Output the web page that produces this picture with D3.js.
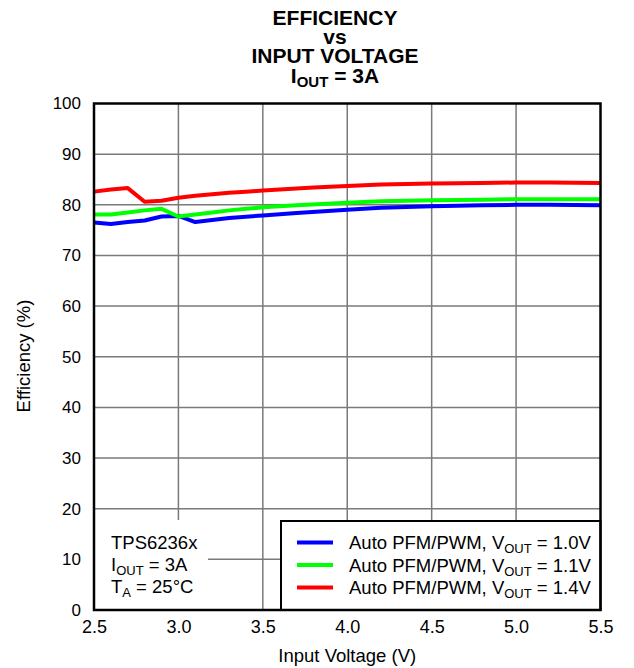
<!DOCTYPE html>
<html>
<head>
<meta charset="utf-8">
<script src="https://cdn.jsdelivr.net/npm/d3@7"></script>
<style>
  html, body { margin: 0; padding: 0; background: #fff; }
  svg text { font-family: "Liberation Sans", Arial, sans-serif; fill: #000; }
</style>
</head>
<body>
<svg id="chart" width="634" height="668"></svg>
<script>
// Efficiency vs input voltage, TPS6236x, IOUT = 3A
const vin1V0 = [2.5, 2.6, 2.7, 2.8, 2.9, 3.0, 3.1, 3.2, 3.3, 3.5, 3.7, 4.0, 4.2, 4.5, 4.8, 5.0, 5.2, 5.5];
const eff1V0 = [76.5, 76.2, 76.6, 76.9, 77.7, 77.8, 76.6, 77.0, 77.4, 77.9, 78.4, 79.0, 79.4, 79.7, 79.9, 80.0, 80.0, 79.9];

const vin1V1 = [2.5, 2.6, 2.7, 2.8, 2.9, 3.0, 3.1, 3.2, 3.3, 3.4, 3.5, 3.7, 4.0, 4.2, 4.5, 4.8, 5.0, 5.2, 5.5];
const eff1V1 = [78.1, 78.1, 78.5, 78.9, 79.2, 77.7, 78.1, 78.5, 78.9, 79.2, 79.5, 79.9, 80.4, 80.7, 80.9, 81.0, 81.1, 81.1, 81.1];

const vin1V4 = [2.5, 2.6, 2.7, 2.8, 2.9, 3.0, 3.1, 3.2, 3.3, 3.4, 3.5, 3.6, 3.8, 4.0, 4.2, 4.5, 4.8, 5.0, 5.2, 5.5];
const eff1V4 = [82.6, 83.0, 83.3, 80.6, 80.8, 81.4, 81.8, 82.1, 82.4, 82.6, 82.8, 83.0, 83.4, 83.7, 84.0, 84.2, 84.3, 84.4, 84.4, 84.3];

const seriesNames = ["1.0V", "1.1V", "1.4V"];
const seriesColors = ["#0000ff", "#00ff00", "#ff0000"];

const xTicks = [2.5, 3.0, 3.5, 4.0, 4.5, 5.0, 5.5];
const yTicks = [0, 10, 20, 30, 40, 50, 60, 70, 80, 90, 100];

const titleLines = ["EFFICIENCY", "vs", "INPUT VOLTAGE"];
const noteLines = ["TPS6236x", "I|OUT| = 3A", "T|A| = 25°C"];

const series = [
  { name: seriesNames[0], color: seriesColors[0], pts: vin1V0.map((v, i) => [v, eff1V0[i]]) },
  { name: seriesNames[1], color: seriesColors[1], pts: vin1V1.map((v, i) => [v, eff1V1[i]]) },
  { name: seriesNames[2], color: seriesColors[2], pts: vin1V4.map((v, i) => [v, eff1V4[i]]) }
];

const svg = d3.select("#chart");
const plot = { left: 94, right: 600.5, top: 103.5, bottom: 610 };

const x = d3.scaleLinear().domain([2.5, 5.5]).range([plot.left, plot.right]);
const y = d3.scaleLinear().domain([0, 100]).range([plot.bottom, plot.top]);

const labelSize = 18.5;

// Title
const title = svg.append("text")
  .attr("text-anchor", "middle")
  .attr("font-weight", "bold")
  .attr("font-size", 21);
const titleBaselines = [25, 43.5, 63];
titleLines.forEach((t, i) => {
  title.append("tspan").attr("x", 335).attr("y", titleBaselines[i]).text(t);
});
const t4 = svg.append("text")
  .attr("text-anchor", "middle")
  .attr("font-weight", "bold")
  .attr("font-size", 21)
  .attr("x", 335).attr("y", 83);
t4.append("tspan").text("I");
t4.append("tspan").attr("font-size", 15).attr("dy", 4).text("OUT");
t4.append("tspan").attr("dy", -4).text(" = 3A");

// Grid
const grid = svg.append("g").attr("stroke", "#7a7a7a").attr("stroke-width", 1.5);
grid.selectAll("line.gx")
  .data(xTicks.slice(1, -1))
  .join("line")
  .attr("x1", d => x(d)).attr("x2", d => x(d))
  .attr("y1", plot.top).attr("y2", plot.bottom);
grid.selectAll("line.gy")
  .data(yTicks.slice(1, -1))
  .join("line")
  .attr("x1", plot.left).attr("x2", plot.right)
  .attr("y1", d => y(d)).attr("y2", d => y(d));

// Curves
const line = d3.line().x(d => x(d[0])).y(d => y(d[1]));
svg.append("g")
  .selectAll("path")
  .data(series)
  .join("path")
  .attr("fill", "none")
  .attr("stroke", d => d.color)
  .attr("stroke-width", 4)
  .attr("stroke-linejoin", "round")
  .attr("d", d => line(d.pts));

// Conditions note box (blank area over the grid)
svg.append("rect")
  .attr("x", plot.left + 1).attr("y", 520)
  .attr("width", 113).attr("height", plot.bottom - 520)
  .attr("fill", "#fff");

const noteBaselines = [549, 571, 593];
noteLines.forEach((s, i) => {
  const parts = s.split("|");
  const t = svg.append("text").attr("x", 111).attr("y", noteBaselines[i]).attr("font-size", labelSize);
  t.append("tspan").text(parts[0]);
  if (parts.length > 1) {
    t.append("tspan").attr("font-size", 13).attr("dy", 4).text(parts[1]);
    t.append("tspan").attr("dy", -4).text(parts[2]);
  }
});

// Legend
const legX = 281, legY = 521;
svg.append("rect")
  .attr("x", legX).attr("y", legY)
  .attr("width", plot.right - legX).attr("height", plot.bottom - legY)
  .attr("fill", "#fff").attr("stroke", "#000").attr("stroke-width", 2);
const leg = svg.append("g");
series.forEach((s, i) => {
  const cy = 542.5 + i * 22.5;
  leg.append("line")
    .attr("x1", 297).attr("x2", 333)
    .attr("y1", cy).attr("y2", cy)
    .attr("stroke", s.color).attr("stroke-width", 4);
  const t = leg.append("text").attr("x", 349).attr("y", cy + 6.5).attr("font-size", labelSize);
  t.append("tspan").text("Auto PFM/PWM, V");
  t.append("tspan").attr("font-size", 13).attr("dy", 4).text("OUT");
  t.append("tspan").attr("dy", -4).text(" = " + s.name);
});

// Frame
svg.append("rect")
  .attr("x", plot.left).attr("y", plot.top)
  .attr("width", plot.right - plot.left).attr("height", plot.bottom - plot.top)
  .attr("fill", "none").attr("stroke", "#000").attr("stroke-width", 2.5);

// Axes labels
const yAxis = d3.axisLeft(y).tickValues(yTicks).tickSize(0).tickPadding(13).tickFormat(d3.format("d"));
svg.append("g")
  .attr("transform", `translate(${plot.left},0)`)
  .call(yAxis)
  .call(g => g.select(".domain").remove())
  .call(g => g.selectAll("text").attr("font-size", 17).attr("font-family", null));

const xAxis = d3.axisBottom(x).tickValues(xTicks).tickSize(0).tickPadding(10).tickFormat(d3.format(".1f"));
svg.append("g")
  .attr("transform", `translate(0,${plot.bottom})`)
  .call(xAxis)
  .call(g => g.select(".domain").remove())
  .call(g => g.selectAll("text").attr("font-size", 18).attr("font-family", null));

svg.append("text")
  .attr("x", (plot.left + plot.right) / 2).attr("y", 662)
  .attr("text-anchor", "middle").attr("font-size", labelSize)
  .text("Input Voltage (V)");

svg.append("text")
  .attr("transform", "translate(30,356) rotate(-90)")
  .attr("text-anchor", "middle").attr("font-size", labelSize)
  .text("Efficiency (%)");
</script>
</body>
</html>
